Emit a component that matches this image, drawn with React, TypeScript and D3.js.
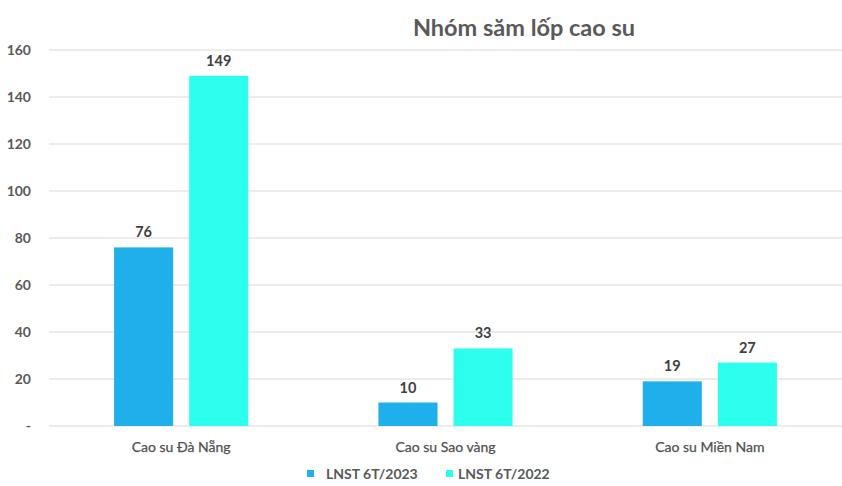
import React from "react";
import * as d3 from "d3";

const categories = ["Cao su Đà Nẵng", "Cao su Sao vàng", "Cao su Miền Nam"];
const seriesNames = ["LNST 6T/2023", "LNST 6T/2022"];
const values2023 = [76, 10, 19];
const values2022 = [149, 33, 27];
const yTicks = [0, 20, 40, 60, 80, 100, 120, 140, 160];
const colors = ["#1FB0EC", "#2CFFEE"];
const title = "Nhóm săm lốp cao su";

const W = 842, H = 486;
const FONT = "Lato, 'Open Sans', sans-serif";

export default function App() {
  const x0 = d3.scaleBand<string>().domain(categories).range([49, 842]).padding(0);
  const x1 = d3.scaleBand<string>().domain(seriesNames).range([0, x0.bandwidth()]).paddingInner(0.2133).paddingOuter(0.8667);
  const y = d3.scaleLinear().domain([0, 160]).range([426, 50]);
  const series = [values2023, values2022];

  return (
    <svg width={W} height={H} style={{ position: "absolute", left: 0, top: 0, background: "#fff" }} fontFamily={FONT}>
      <text x={524} y={36} textAnchor="middle" fontSize={23.5} fontWeight="bold" fill="#595959">{title}</text>
      {yTicks.map((t) => (
        <g key={t}>
          <line x1={49} x2={842} y1={y(t)} y2={y(t)} stroke="#D9D9D9" strokeWidth={1} />
          <text x={31} y={y(t)} dy="0.35em" textAnchor="end" fontSize={14} fontWeight="bold" fill="#595959">
            {t === 0 ? "-" : t}
          </text>
        </g>
      ))}
      {categories.map((c, i) => (
        <g key={c} transform={`translate(${x0(c)},0)`}>
          {seriesNames.map((s, j) => {
            const v = series[j][i];
            const bx = x1(s)!;
            return (
              <g key={s}>
                <rect x={bx} y={y(v)} width={x1.bandwidth()} height={y(0) - y(v)} fill={colors[j]} />
                <text x={bx + x1.bandwidth() / 2} y={y(v) - 10} textAnchor="middle" fontSize={14.5} fontWeight="bold" fill="#404040">{v}</text>
              </g>
            );
          })}
          <text x={x0.bandwidth() / 2} y={452} textAnchor="middle" fontSize={14} fill="#505050" stroke="#505050" strokeWidth={0.25}>{c}</text>
        </g>
      ))}
      {seriesNames.map((s, j) => {
        const lx = [307, 446][j];
        return (
          <g key={s}>
            <rect x={lx} y={470} width={7} height={7} fill={colors[j]} />
            <text x={lx + 19 - (j === 1 ? 7 : 0)} y={474} dy="0.35em" fontSize={14} fontWeight="bold" fill="#595959">{s}</text>
          </g>
        );
      })}
    </svg>
  );
}
